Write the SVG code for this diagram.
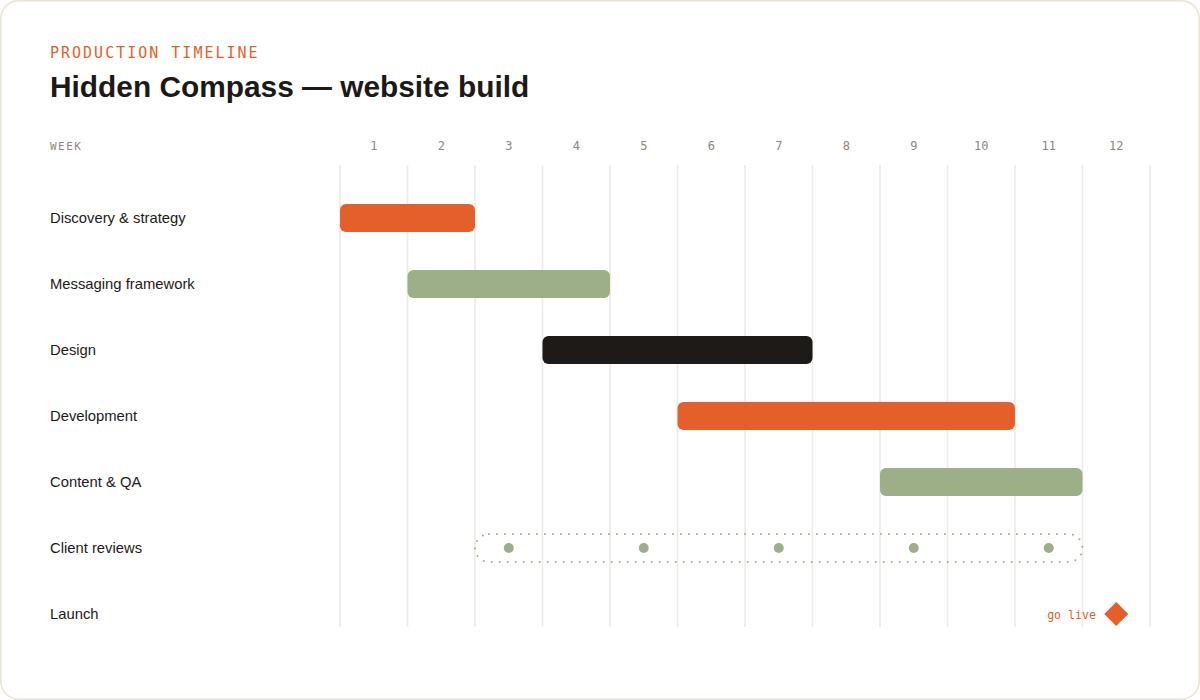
<svg xmlns="http://www.w3.org/2000/svg" width="1200" height="700" viewBox="0 0 1200 700">
<style>
.mono{font-family:"DejaVu Sans Mono","Liberation Mono",monospace}
.sans{font-family:"Liberation Sans",Arial,sans-serif}
.eyebrow{font-size:15px;fill:#e55f2b;letter-spacing:2px}
.title{font-size:29.85px;font-weight:bold;fill:#1c1917}
.week{font-size:11px;fill:#8c857e;letter-spacing:1.5px}
.wk{font-size:12px;fill:#8c857e;text-anchor:middle}
.lbl{font-size:14.8px;fill:#1c1917}
.grid line{stroke:#eeeae5;stroke-width:1.6}
.orange{fill:#e55f2b}
.sage{fill:#9daf88}
.dark{fill:#1e1a17}
</style>
<rect x="0.75" y="0.75" width="1198.5" height="698.5" rx="18" fill="#fff" stroke="#e9e1d5" stroke-width="1.5"/>
<text class="mono eyebrow" x="50" y="58">PRODUCTION TIMELINE</text>
<text class="sans title" x="50" y="96.5">Hidden Compass — website build</text>
<text class="mono week" x="50" y="150">WEEK</text>
<g id="weeks">
<text class="mono wk" x="373.75" y="150">1</text>
<text class="mono wk" x="441.25" y="150">2</text>
<text class="mono wk" x="508.75" y="150">3</text>
<text class="mono wk" x="576.25" y="150">4</text>
<text class="mono wk" x="643.75" y="150">5</text>
<text class="mono wk" x="711.25" y="150">6</text>
<text class="mono wk" x="778.75" y="150">7</text>
<text class="mono wk" x="846.25" y="150">8</text>
<text class="mono wk" x="913.75" y="150">9</text>
<text class="mono wk" x="981.25" y="150">10</text>
<text class="mono wk" x="1048.75" y="150">11</text>
<text class="mono wk" x="1116.25" y="150">12</text>
</g>
<g id="grid" class="grid">
<line x1="340" y1="165" x2="340" y2="627"/>
<line x1="407.5" y1="165" x2="407.5" y2="627"/>
<line x1="475" y1="165" x2="475" y2="627"/>
<line x1="542.5" y1="165" x2="542.5" y2="627"/>
<line x1="610" y1="165" x2="610" y2="627"/>
<line x1="677.5" y1="165" x2="677.5" y2="627"/>
<line x1="745" y1="165" x2="745" y2="627"/>
<line x1="812.5" y1="165" x2="812.5" y2="627"/>
<line x1="880" y1="165" x2="880" y2="627"/>
<line x1="947.5" y1="165" x2="947.5" y2="627"/>
<line x1="1015" y1="165" x2="1015" y2="627"/>
<line x1="1082.5" y1="165" x2="1082.5" y2="627"/>
<line x1="1150" y1="165" x2="1150" y2="627"/>
</g>
<g id="discovery">
<text class="sans lbl" x="50" y="223">Discovery &amp; strategy</text>
<rect class="orange" x="340" y="204" width="135" height="28" rx="6"/>
</g>
<g id="messaging">
<text class="sans lbl" x="50" y="289">Messaging framework</text>
<rect class="sage" x="407.5" y="270" width="202.5" height="28" rx="6"/>
</g>
<g id="design">
<text class="sans lbl" x="50" y="355">Design</text>
<rect class="dark" x="542.5" y="336" width="270" height="28" rx="6"/>
</g>
<g id="development">
<text class="sans lbl" x="50" y="421">Development</text>
<rect class="orange" x="677.5" y="402" width="337.5" height="28" rx="6"/>
</g>
<g id="content">
<text class="sans lbl" x="50" y="487">Content &amp; QA</text>
<rect class="sage" x="880" y="468" width="202.5" height="28" rx="6"/>
</g>
<g id="reviews">
<text class="sans lbl" x="50" y="553">Client reviews</text>
<rect x="475" y="534" width="607.5" height="28" rx="14" fill="none" stroke="#9daf88" stroke-width="2" stroke-dasharray="0 8" stroke-linecap="round"/>
<circle class="sage" cx="508.75" cy="548" r="5"/>
<circle class="sage" cx="643.75" cy="548" r="5"/>
<circle class="sage" cx="778.75" cy="548" r="5"/>
<circle class="sage" cx="913.75" cy="548" r="5"/>
<circle class="sage" cx="1048.75" cy="548" r="5"/>
</g>
<g id="launch">
<text class="sans lbl" x="50" y="619">Launch</text>
<text class="mono" x="1096" y="618.5" font-size="11.6" fill="#e55f2b" text-anchor="end">go live</text>
<rect class="orange" x="1107.75" y="605.5" width="17" height="17" transform="rotate(45 1116.25 614)"/>
</g>
</svg>
